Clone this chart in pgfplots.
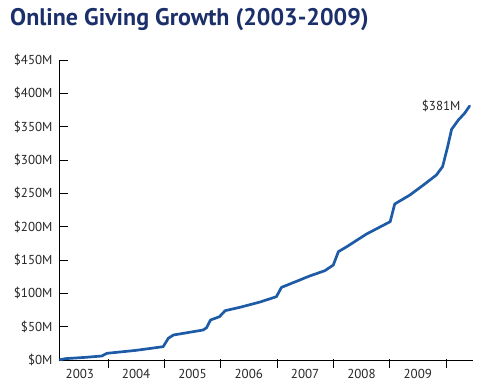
\documentclass[border=0pt]{standalone}
\usepackage{pgfplots}
\pgfplotsset{compat=1.18}
\usepackage{fontspec}
\setmainfont{PT Sans}
\definecolor{titleblue}{HTML}{1B2F6B}
\definecolor{lineblue}{HTML}{1E5BA6}
\begin{document}
\begin{tikzpicture}
\path[use as bounding box] (-59bp,-28bp) rectangle (426bp,360bp);
\node[anchor=base west,text=titleblue,inner sep=0pt] at (-49bp,334bp) {\fontsize{24bp}{28bp}\selectfont\bfseries Online Giving Growth (2003-2009)};
\begin{axis}[
  at={(0,0)}, anchor=south west,
  scale only axis, width=414bp, height=300bp,
  xmin=2003.13, xmax=2010.48, ymin=0, ymax=450,
  axis x line=bottom, axis y line=left,
  axis line style={-, line width=0.8bp, black},
  tick align=inside,
  major tick length=9bp,
  ytick={0,50,...,450},
  yticklabels={\$0M,\$50M,\$100M,\$150M,\$200M,\$250M,\$300M,\$350M,\$400M,\$450M},
  yticklabel style={font=\fontsize{13bp}{15bp}\selectfont, xshift=-3bp, text=black!85},
  ytick style={line width=0.8bp, black},
  xtick={2004,...,2010},
  xticklabels={},
  xtick style={line width=0.8bp, black, yshift=-8bp},
  extra x ticks={2003.5,2004.5,...,2009.5},
  extra x tick labels={2003,2004,2005,2006,2007,2008,2009},
  extra x tick style={major tick length=0pt, xticklabel style={font=\fontsize{13bp}{15bp}\selectfont, yshift=-6bp, text=black!85}},
  clip=false,
]
\addplot[lineblue, line width=2.7bp, line join=round, line cap=round] coordinates {
(2003.15,0.5) (2003.24,2) (2003.6,4) (2003.89,6) (2003.98,10) (2004.5,14.5) (2004.98,20)
(2005.07,32.5) (2005.16,37.5) (2005.69,45) (2005.75,48.5) (2005.82,60) (2005.98,65)
(2006.08,74) (2006.34,79) (2006.7,87) (2006.99,95) (2007.08,109) (2007.17,112)
(2007.58,126) (2007.85,134) (2008.00,142.5) (2008.09,162.5) (2008.24,170) (2008.59,189)
(2009.01,207.5) (2009.09,234) (2009.36,247.5) (2009.60,262.5) (2009.83,277.5) (2009.94,290)
(2010.03,320) (2010.10,346) (2010.22,360) (2010.33,370) (2010.42,381)
};
\node[anchor=east, font=\fontsize{13bp}{15bp}\selectfont, text=black!85] at (axis cs:2010.32,381) {\$381M};
\end{axis}
\end{tikzpicture}
\end{document}
